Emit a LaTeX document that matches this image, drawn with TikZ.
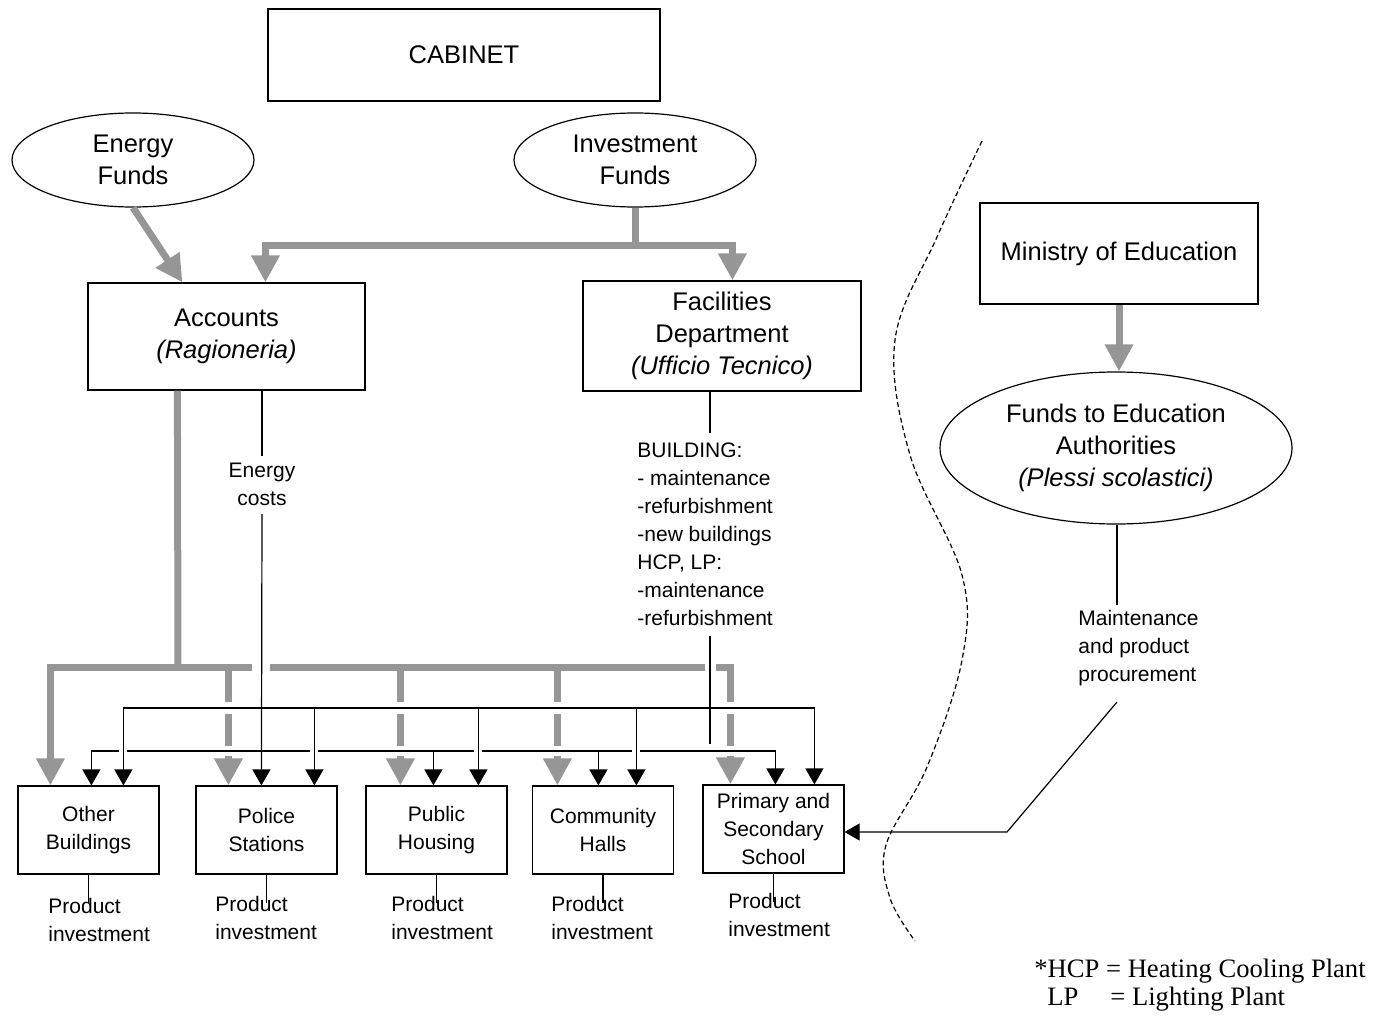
\documentclass[tikz,border=0pt]{standalone}
\usepackage{fontspec}
\setmainfont{Liberation Sans}
\newfontfamily\notefamily{Liberation Serif}
\usetikzlibrary{arrows.meta,shapes.geometric,calc}
\definecolor{flowgrey}{RGB}{150,150,150}
\newcommand{\txtbig}{\fontsize{12.75pt}{16pt}\selectfont}
\newcommand{\txtsmall}{\fontsize{10.5pt}{14pt}\selectfont}
\newcommand{\txtnote}{\notefamily\fontsize{13.3pt}{15pt}\selectfont}

\begin{document}
\begin{tikzpicture}[x=0.5pt,y=-0.5pt,
  box/.style={draw, line width=0.6pt, inner sep=0pt, align=center, font=\txtbig},
  oval/.style={ellipse, draw, line width=0.6pt, inner sep=0pt, align=center,
    font=\txtbig, minimum width=121pt, minimum height=47pt},
  unit/.style={draw, line width=0.6pt, inner sep=0pt, align=center,
    font=\txtsmall, minimum width=70.5pt, minimum height=44pt},
  note/.style={inner sep=0pt, align=left, font=\txtsmall},
  foot/.style={inner sep=0pt, anchor=base west, font=\txtnote},
  gbar/.style={draw=flowgrey, line width=3.5pt},
  gflow/.style={gbar, -{Triangle[length=13.5pt,width=13.5pt]}},
  gflowtwo/.style={gbar, {Triangle[length=13.5pt,width=13.5pt]}-{Triangle[length=13.5pt,width=13.5pt]}},
  bline/.style={draw=black, line width=0.6pt},
  bflow/.style={bline, -{Triangle[length=8pt,width=9pt]}},
  bflowtwo/.style={bline, {Triangle[length=8pt,width=9pt]}-{Triangle[length=8pt,width=9pt]}},
  whitegap/.style={draw=white, line width=#1},
]
\useasboundingbox (0,0) rectangle (1375,1016);

% ---------- top level ----------
\node[box, minimum width=196pt, minimum height=46pt] (cab) at (464,55) {CABINET};
\node[oval] (ef) at (133,160) {Energy\\Funds};
\node[oval] (inf) at (635,160) {Investment\\Funds};
\node[box, minimum width=138.5pt, minimum height=53.5pt] (acc) at (226.5,336.5)
  {Accounts\\\textit{(Ragioneria)}};
\node[box, minimum width=139pt, minimum height=55pt] (fac) at (722,336)
  {Facilities\\Department\\\textit{(Ufficio Tecnico)}};
\node[box, minimum width=139pt, minimum height=50.5pt] (min) at (1119,253.5)
  {Ministry of Education};
\node[oval, minimum width=176pt, minimum height=76pt] (fea) at (1116,448)
  {Funds to Education\\Authorities\\\textit{(Plessi scolastici)}};

% ---------- building types ----------
\node[unit] (ob) at (88.5,830) {Other\\Buildings};
\node[unit] (ps) at (266.5,830) {Police\\Stations};
\node[unit] (ph) at (436.5,830) {Public\\Housing};
\node[unit] (ch) at (603,830) {Community\\Halls};
\node[unit] (pss) at (773.5,829) {Primary and\\Secondary\\School};

% ---------- labels ----------
\node[note, align=center] (ecl) at (262,484) {Energy\\costs};
\node[note, anchor=west] (fl) at (637,534)
  {BUILDING:\\- maintenance\\-refurbishment\\-new buildings\\HCP, LP:\\-maintenance\\-refurbishment};
\node[note, anchor=west] (mpl) at (1078,648) {Maintenance\\and product\\procurement};
\node[note, anchor=west] (obp) at (48,920) {Product\\investment};
\node[note, anchor=west] (psp) at (215,918) {Product\\investment};
\node[note, anchor=west] (php) at (391,918) {Product\\investment};
\node[note, anchor=west] (chp) at (551,918) {Product\\investment};
\node[note, anchor=west] (pssp) at (728,915) {Product\\investment};

\node[foot] (fn1) at (1034,977) {*HCP = Heating Cooling Plant};
\node[foot] (fn2) at (1047,1005) {LP};
\node[foot] (fn3) at (1110,1005) {= Lighting Plant};

% ---------- junctions and arrow ends ----------
\coordinate (ib) at (635,246);
\coordinate (gb) at (178,667);
\coordinate (ub) at (0,708);
\coordinate (lb) at (0,751);
\coordinate (obG) at ($(ob.north west)+(33,0)$);
\coordinate (obL) at ($(ob.north west)+(74,0)$);
\coordinate (obU) at ($(ob.north west)+(106,0)$);
\coordinate (psG) at ($(ps.north west)+(33,0)$);
\coordinate (psE) at ($(ps.north west)+(66,0)$);
\coordinate (psU) at ($(ps.north west)+(119,0)$);
\coordinate (phG) at ($(ph.north west)+(35,0)$);
\coordinate (phL) at ($(ph.north west)+(68,0)$);
\coordinate (phU) at ($(ph.north west)+(113,0)$);
\coordinate (chG) at ($(ch.north west)+(25.5,0)$);
\coordinate (chL) at ($(ch.north west)+(66.5,0)$);
\coordinate (chU) at ($(ch.north west)+(104.5,0)$);
\coordinate (pssG) at ($(pss.north west)+(28,0)$);
\coordinate (pssL) at ($(pss.north west)+(73,0)$);
\coordinate (pssU) at ($(pss.north west)+(112,0)$);
\coordinate (eA) at (262,456);
\coordinate (eB) at (262,514);
\coordinate (fA) at (710,433);
\coordinate (fB) at (710,636);
\coordinate (fC) at (710,744);
\coordinate (mA) at (1117,605);
\coordinate (mB) at (1117,702);
\coordinate (mC) at (1007,832);

% ---------- funding flows (grey) ----------
\draw[gflow] (ef.south) -- ($(acc.north west)+(95,0)$);
\draw[gbar] (inf.south) -- (ib);
\draw[gflow] (ib) -| ($(acc.north west)+(178,0)$);
\draw[gflow] (ib) -| ($(fac.north west)+(150,0)$);
\draw[gflow] (min.south) -- (min.south |- fea.north);
\draw[gbar] ($(acc.south west)+(90,0)$) -- (gb);
\draw[gflowtwo] (obG) -- (obG |- gb) -- (pssG |- gb) -- (pssG);
\foreach \c in {psG,phG,chG} \draw[gflow] (\c |- gb) -- (\c);

% breaks in the grey lines where black lines pass
\draw[whitegap=9pt] ($(psE |- gb)+(0,-7)$) -- ($(psE |- gb)+(0,7)$);
\draw[whitegap=5.5pt] ($(fC |- gb)+(0,-7)$) -- ($(fC |- gb)+(0,7)$);
\draw[whitegap=6pt] (obU |- ub) -- (pssU |- ub);
\draw[whitegap=5pt] (obL |- lb) -- (pssL |- lb);

% ---------- lower service line ----------
\draw[bflowtwo] (obL) -- (obL |- lb) -- (pssL |- lb) -- (pssL);
\foreach \c in {phL,chL} \draw[bflow] (\c |- lb) -- (\c);
\foreach \c in {obU,psU,phU,chU}
  \draw[whitegap=4pt] ($(\c |- lb)+(0,-4)$) -- ($(\c |- lb)+(0,4)$);

% ---------- upper service line ----------
\draw[bflowtwo] (obU) -- (obU |- ub) -- (pssU |- ub) -- (pssU);
\foreach \c in {psU,phU,chU} \draw[bflow] (\c |- ub) -- (\c);

% ---------- energy costs ----------
\draw[bline] (acc.south -| eA) -- (eA);
\draw[bflow] (eB) -- (psE);

% ---------- facilities works ----------
\draw[bline] (fac.south -| fA) -- (fA);
\draw[bline] (fB) -- (fC);

% ---------- education funds ----------
\draw[bline] (fea.south -| mA) -- (mA);
\draw[bline, -{Triangle[length=7.5pt,width=8.5pt]}] (mB) -- (mC) -- (mC -| pss.east);

% ---------- product investment ----------
\foreach \b in {ob,ps,ph,ch,pss} \draw[bline] (\b.south) -- ++(0,28);

% ---------- boundary ----------
\draw[bline, dash pattern=on 2.5pt off 1.5pt] plot[smooth, tension=0.6] coordinates
  {(982,141) (937,237) (895,340) (910,455) (962,575) (962,660) (927,767) (886,845) (890,898) (915,941)};
\end{tikzpicture}
\end{document}
